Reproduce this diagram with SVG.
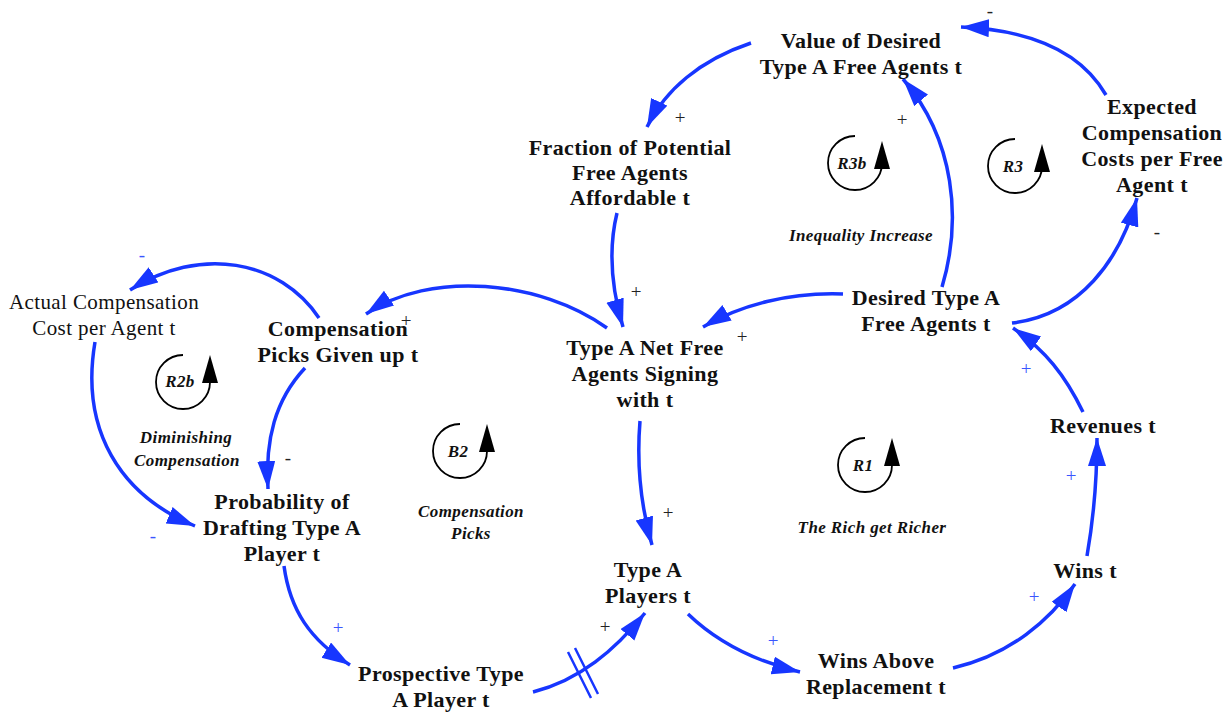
<svg xmlns="http://www.w3.org/2000/svg" width="1226" height="715" viewBox="0 0 1226 715">
<style>
.n{font-family:"Liberation Serif",serif;font-weight:bold;font-size:22px;letter-spacing:0.4px;fill:#111;text-anchor:middle}
.r{font-family:"Liberation Serif",serif;font-size:21px;letter-spacing:0.4px;fill:#111;text-anchor:middle}
.l{font-family:"Liberation Serif",serif;font-weight:bold;font-style:italic;font-size:17px;letter-spacing:0.4px;fill:#111;text-anchor:middle}
.c{fill:none;stroke:#1736ff;stroke-width:3.5;marker-end:url(#ah)}
.d{fill:none;stroke:#1736ff;stroke-width:2.5}
.pk{font-family:"Liberation Serif",serif;font-size:19px;fill:#222;text-anchor:middle}
.pb{font-family:"Liberation Serif",serif;font-size:19px;fill:#3a55ff;text-anchor:middle}
.lp{fill:none;stroke:#000;stroke-width:1.8}
.lh{fill:#000}
</style>
<defs>
<marker id="ah" markerUnits="userSpaceOnUse" markerWidth="30" markerHeight="20" refX="28" refY="9" orient="auto">
<path d="M0,0 L28,9 L0,18 z" fill="#1736ff"/>
</marker>
</defs>
<rect width="1226" height="715" fill="#fff"/>

<g id="connectors">
<path class="c" d="M751,43 C700,60 665,90 647,127"/>
<path class="c" d="M1106,95 C1080,50 1030,30 961,27"/>
<path class="c" d="M942,287 C962,220 955,140 903,79"/>
<path class="c" d="M1012,323 C1080,315 1120,260 1137,198"/>
<path class="c" d="M843,294 C790,292 740,305 703,327"/>
<path class="c" d="M617,213 C608,250 612,290 623,327"/>
<path class="c" d="M607,328 C540,280 430,270 366,314"/>
<path class="c" d="M319,318 C280,260 200,245 130,290"/>
<path class="c" d="M305,368 C275,400 265,440 268,489"/>
<path class="c" d="M95,342 C80,430 120,495 195,526"/>
<path class="c" d="M284,566 C290,610 310,640 350,665"/>
<path class="c" d="M533,692 C580,680 615,650 645,613"/>
<path class="d" d="M568,652 L591,698 M575,648 L598,694"/>
<path class="c" d="M688,614 C715,640 750,660 800,672"/>
<path class="c" d="M953,668 C1010,655 1050,620 1075,584"/>
<path class="c" d="M1087,556 C1095,510 1097,475 1097,438"/>
<path class="c" d="M1083,412 C1065,375 1045,350 1013,328"/>
<path class="c" d="M640,421 C636,470 642,510 652,545"/>
</g>

<g id="polarities">
<text class="pk" x="990" y="17">-</text>
<text class="pk" x="680" y="124">+</text>
<text class="pk" x="902" y="126">+</text>
<text class="pk" x="1157" y="238">-</text>
<text class="pb" x="142" y="261">-</text>
<text class="pb" x="153" y="542">-</text>
<text class="pk" x="406" y="327">+</text>
<text class="pk" x="288" y="464">-</text>
<text class="pk" x="636" y="298">+</text>
<text class="pk" x="742" y="343">+</text>
<text class="pk" x="668" y="519">+</text>
<text class="pb" x="338" y="634">+</text>
<text class="pk" x="605" y="633">+</text>
<text class="pb" x="773" y="647">+</text>
<text class="pb" x="1034" y="603">+</text>
<text class="pb" x="1071" y="482">+</text>
<text class="pb" x="1026" y="375">+</text>
</g>

<g id="value-desired"><text class="n" x="861" y="48">Value of Desired</text><text class="n" x="861" y="74">Type A Free Agents t</text></g>
<g id="fraction"><text class="n" x="630" y="155">Fraction of Potential</text><text class="n" x="630" y="180">Free Agents</text><text class="n" x="630" y="205">Affordable t</text></g>
<g id="expected"><text class="n" x="1152" y="114">Expected</text><text class="n" x="1152" y="140">Compensation</text><text class="n" x="1152" y="166">Costs per Free</text><text class="n" x="1152" y="192">Agent t</text></g>
<g id="desired"><text class="n" x="926" y="305">Desired Type A</text><text class="n" x="926" y="331">Free Agents t</text></g>
<g id="comp-picks"><text class="n" x="338" y="336">Compensation</text><text class="n" x="338" y="362">Picks Given up t</text></g>
<g id="net-free"><text class="n" x="645" y="355">Type A Net Free</text><text class="n" x="645" y="381">Agents Signing</text><text class="n" x="645" y="407">with t</text></g>
<g id="actual"><text class="r" x="104" y="309">Actual Compensation</text><text class="r" x="104" y="335">Cost per Agent t</text></g>
<g id="revenues"><text class="n" x="1103" y="433">Revenues t</text></g>
<g id="probability"><text class="n" x="282" y="509">Probability of</text><text class="n" x="282" y="535">Drafting Type A</text><text class="n" x="282" y="561">Player t</text></g>
<g id="players"><text class="n" x="648" y="577">Type A</text><text class="n" x="648" y="603">Players t</text></g>
<g id="wins"><text class="n" x="1085" y="578">Wins t</text></g>
<g id="prospective"><text class="n" x="441" y="681">Prospective Type</text><text class="n" x="441" y="707">A Player t</text></g>
<g id="wins-above"><text class="n" x="876" y="668">Wins Above</text><text class="n" x="876" y="694">Replacement t</text></g>

<g id="loop-R3b"><path class="lp" d="M855,136 A27,27 0 1 0 882,163"/><path class="lh" d="M882,141 L874,169 L890,169 z"/><text class="l" x="852" y="169">R3b</text></g>
<g id="loop-R3"><path class="lp" d="M1015,139 A27,27 0 1 0 1042,166"/><path class="lh" d="M1042,144 L1034,172 L1050,172 z"/><text class="l" x="1013" y="172">R3</text></g>
<g id="loop-R2b"><path class="lp" d="M183,355 A27,27 0 1 0 210,382"/><path class="lh" d="M210,355 L202,383 L218,383 z"/><text class="l" x="180" y="387">R2b</text></g>
<g id="loop-B2"><path class="lp" d="M460,424 A27,27 0 1 0 487,451"/><path class="lh" d="M487,424 L479,452 L495,452 z"/><text class="l" x="458" y="457">B2</text></g>
<g id="loop-R1"><path class="lp" d="M865,438 A27,27 0 1 0 892,465"/><path class="lh" d="M892,438 L884,466 L900,466 z"/><text class="l" x="863" y="471">R1</text></g>

<g id="loop-labels">
<text class="l" x="861" y="241">Inequality Increase</text>
<text class="l" x="186" y="443">Diminishing</text>
<text class="l" x="187" y="466">Compensation</text>
<text class="l" x="471" y="517">Compensation</text>
<text class="l" x="471" y="539">Picks</text>
<text class="l" x="872" y="533">The Rich get Richer</text>
</g>
</svg>
